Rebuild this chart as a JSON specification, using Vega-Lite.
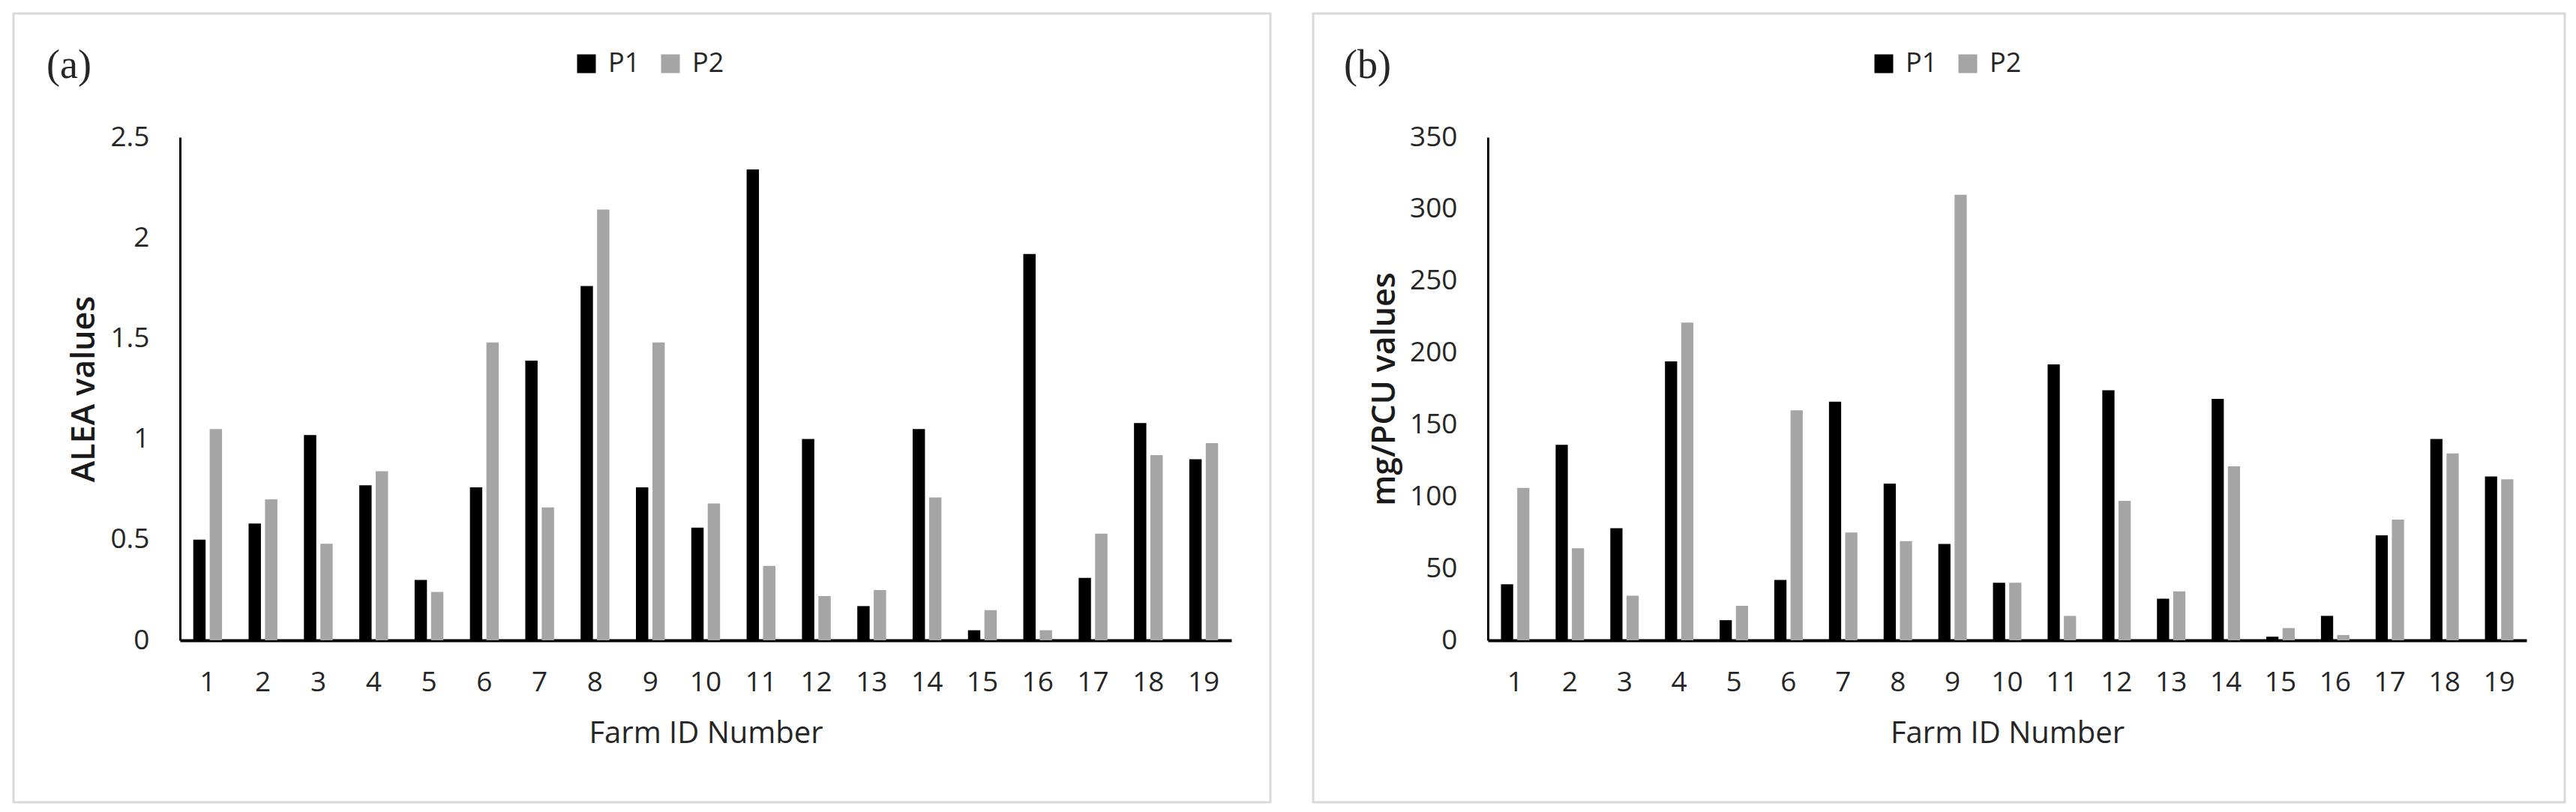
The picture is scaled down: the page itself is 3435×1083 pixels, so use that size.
{
  "$schema": "https://vega.github.io/schema/vega-lite/v6.json",
  "autosize": {"type": "pad"},
  "padding": {"left": 16, "top": 16, "right": 0, "bottom": 0},
  "background": "white",
  "datasets": {
    "farms": [
      {"farm": 1, "period": "P1", "alea": 0.50, "mgpcu": 39},
      {"farm": 1, "period": "P2", "alea": 1.05, "mgpcu": 106},
      {"farm": 2, "period": "P1", "alea": 0.58, "mgpcu": 136},
      {"farm": 2, "period": "P2", "alea": 0.70, "mgpcu": 64},
      {"farm": 3, "period": "P1", "alea": 1.02, "mgpcu": 78},
      {"farm": 3, "period": "P2", "alea": 0.48, "mgpcu": 31},
      {"farm": 4, "period": "P1", "alea": 0.77, "mgpcu": 194},
      {"farm": 4, "period": "P2", "alea": 0.84, "mgpcu": 221},
      {"farm": 5, "period": "P1", "alea": 0.30, "mgpcu": 14},
      {"farm": 5, "period": "P2", "alea": 0.24, "mgpcu": 24},
      {"farm": 6, "period": "P1", "alea": 0.76, "mgpcu": 42},
      {"farm": 6, "period": "P2", "alea": 1.48, "mgpcu": 160},
      {"farm": 7, "period": "P1", "alea": 1.39, "mgpcu": 166},
      {"farm": 7, "period": "P2", "alea": 0.66, "mgpcu": 75},
      {"farm": 8, "period": "P1", "alea": 1.76, "mgpcu": 109},
      {"farm": 8, "period": "P2", "alea": 2.14, "mgpcu": 69},
      {"farm": 9, "period": "P1", "alea": 0.76, "mgpcu": 67},
      {"farm": 9, "period": "P2", "alea": 1.48, "mgpcu": 310},
      {"farm": 10, "period": "P1", "alea": 0.56, "mgpcu": 40},
      {"farm": 10, "period": "P2", "alea": 0.68, "mgpcu": 40},
      {"farm": 11, "period": "P1", "alea": 2.34, "mgpcu": 192},
      {"farm": 11, "period": "P2", "alea": 0.37, "mgpcu": 17},
      {"farm": 12, "period": "P1", "alea": 1.00, "mgpcu": 174},
      {"farm": 12, "period": "P2", "alea": 0.22, "mgpcu": 97},
      {"farm": 13, "period": "P1", "alea": 0.17, "mgpcu": 29},
      {"farm": 13, "period": "P2", "alea": 0.25, "mgpcu": 34},
      {"farm": 14, "period": "P1", "alea": 1.05, "mgpcu": 168},
      {"farm": 14, "period": "P2", "alea": 0.71, "mgpcu": 121},
      {"farm": 15, "period": "P1", "alea": 0.05, "mgpcu": 2.5},
      {"farm": 15, "period": "P2", "alea": 0.15, "mgpcu": 8.5},
      {"farm": 16, "period": "P1", "alea": 1.92, "mgpcu": 17},
      {"farm": 16, "period": "P2", "alea": 0.05, "mgpcu": 3.7},
      {"farm": 17, "period": "P1", "alea": 0.31, "mgpcu": 73},
      {"farm": 17, "period": "P2", "alea": 0.53, "mgpcu": 84},
      {"farm": 18, "period": "P1", "alea": 1.08, "mgpcu": 140},
      {"farm": 18, "period": "P2", "alea": 0.92, "mgpcu": 130},
      {"farm": 19, "period": "P1", "alea": 0.90, "mgpcu": 114},
      {"farm": 19, "period": "P2", "alea": 0.98, "mgpcu": 112}
    ]
  },
  "spacing": 57,
  "bounds": "flush",
  "resolve": {
    "scale": {"x": "independent", "y": "independent", "color": "independent", "xOffset": "independent"},
    "legend": {"color": "independent"}
  },
  "hconcat": [
    {
      "width": 1676,
      "height": 1052,
      "data": {"name": "farms"},
      "title": {"text": "(a)", "anchor": "start", "frame": "group", "orient": "top", "offset": 0, "baseline": "alphabetic", "dx": 44, "dy": 140},
      "mark": {"type": "bar"},
      "encoding": {
        "x": {
          "field": "farm", "type": "ordinal",
          "scale": {"range": [222, 1624], "paddingInner": 0.48, "paddingOuter": 0.24},
          "axis": {"title": "Farm ID Number", "labelAngle": 0, "offset": -216, "labelPadding": 38, "titlePadding": 30, "domainWidth": 4}
        },
        "xOffset": {"field": "period", "type": "nominal", "scale": {"paddingInner": 0.25, "paddingOuter": 0}},
        "y": {
          "field": "alea", "type": "quantitative",
          "scale": {"domain": [0, 2.5], "range": [836, 165], "nice": false, "zero": true},
          "axis": {"title": "ALEA values", "values": [0, 0.5, 1, 1.5, 2, 2.5], "format": "~g", "offset": -222, "labelPadding": 41, "titlePadding": 12, "domainWidth": 3}
        },
        "color": {
          "field": "period", "type": "nominal",
          "scale": {"domain": ["P1", "P2"], "range": ["#000000", "#a5a5a5"]},
          "legend": {"orient": "none", "direction": "horizontal", "legendX": 746, "legendY": 49, "title": null}
        }
      }
    },
    {
      "width": 1669,
      "height": 1052,
      "data": {"name": "farms"},
      "title": {"text": "(b)", "anchor": "start", "frame": "group", "orient": "top", "offset": 0, "baseline": "alphabetic", "dx": 41, "dy": 140},
      "mark": {"type": "bar"},
      "encoding": {
        "x": {
          "field": "farm", "type": "ordinal",
          "scale": {"range": [233, 1618], "paddingInner": 0.48, "paddingOuter": 0.24},
          "axis": {"title": "Farm ID Number", "labelAngle": 0, "offset": -216, "labelPadding": 38, "titlePadding": 30, "domainWidth": 4}
        },
        "xOffset": {"field": "period", "type": "nominal", "scale": {"paddingInner": 0.25, "paddingOuter": 0}},
        "y": {
          "field": "mgpcu", "type": "quantitative",
          "scale": {"domain": [0, 350], "range": [836, 165], "nice": false, "zero": true},
          "axis": {"title": "mg/PCU values", "values": [0, 50, 100, 150, 200, 250, 300, 350], "format": "d", "offset": -233, "labelPadding": 41, "titlePadding": 11, "domainWidth": 3}
        },
        "color": {
          "field": "period", "type": "nominal",
          "scale": {"domain": ["P1", "P2"], "range": ["#000000", "#a5a5a5"]},
          "legend": {"orient": "none", "direction": "horizontal", "legendX": 743, "legendY": 49, "title": null}
        }
      }
    }
  ],
  "config": {
    "view": {"stroke": "#d9d9d9", "strokeWidth": 3, "fill": "white"},
    "axis": {
      "ticks": false,
      "grid": false,
      "domainColor": "#000000",
      "labelFont": "Open Sans",
      "labelFontSize": 37,
      "labelColor": "#262626",
      "titleFont": "Open Sans",
      "titleColor": "#262626",
      "titleFontWeight": "normal",
      "titleFontSize": 40
    },
    "axisY": {"titleFontWeight": 600, "titleFontSize": 43, "titleColor": "#1a1a1a"},
    "legend": {
      "symbolType": "square",
      "symbolSize": 625,
      "symbolStrokeWidth": 0,
      "symbolOpacity": 1,
      "labelFont": "Open Sans",
      "labelFontSize": 36,
      "labelColor": "#262626",
      "labelOffset": 11,
      "columnPadding": 22,
      "padding": 0
    },
    "title": {"font": "Liberation Serif", "fontSize": 54, "fontWeight": "normal", "color": "#262626"}
  }
}
